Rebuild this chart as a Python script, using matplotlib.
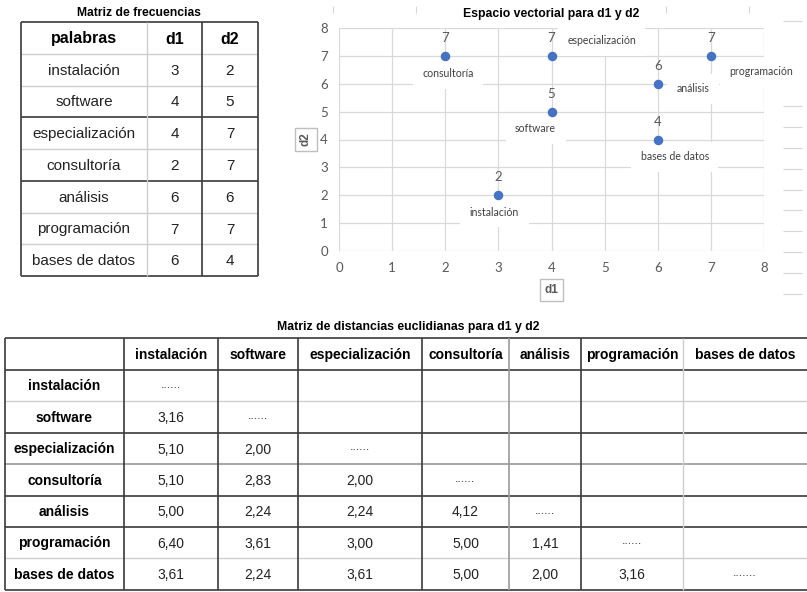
import matplotlib.pyplot as plt

plt.rcParams['font.family'] = ['Liberation Sans', 'DejaVu Sans']

# datos de la matriz de frecuencias
palabras = ["instalación", "software", "especialización", "consultoría",
            "análisis", "programación", "bases de datos"]
d1 = [3, 4, 4, 2, 6, 7, 6]
d2 = [2, 5, 7, 7, 6, 7, 4]

distancias = [
    [],
    ["3,16"],
    ["5,10", "2,00"],
    ["5,10", "2,83", "2,00"],
    ["5,00", "2,24", "2,24", "4,12"],
    ["6,40", "3,61", "3,00", "5,00", "1,41"],
    ["3,61", "2,24", "3,61", "5,00", "2,00", "3,16"],
]
diagonal = ["......", "......", "......", "......", "......", "......", "......."]

W, H = 807, 592
fig = plt.figure(figsize=(W / 100, H / 100), dpi=100)
ax0 = fig.add_axes([0, 0, 1, 1])
ax0.set_xlim(0, W)
ax0.set_ylim(H, 0)
ax0.axis('off')

DARK = '#3a3a3a'
LIGHT = '#cfcfcf'
MID = '#9a9a9a'


def hline(y, x0, x1, c, lw):
    ax0.plot([x0, x1], [y, y], color=c, lw=lw, solid_capstyle='butt')


def vline(x, y0, y1, c, lw):
    ax0.plot([x, x], [y0, y1], color=c, lw=lw, solid_capstyle='butt')


# ---- tabla 1: matriz de frecuencias ----
cx = [21, 147, 202, 258]
ry = [22, 54, 86, 117, 149, 181, 213, 244, 276]
h_style = ['d', 'l', 'l', 'd', 'l', 'd', 'l', 'l', 'd']
v_style = ['d', 'l', 'd', 'd']
for y, s in zip(ry, h_style):
    hline(y, cx[0], cx[-1], DARK if s == 'd' else LIGHT, 1.2 if s == 'd' else 1.0)
for x, s in zip(cx, v_style):
    vline(x, ry[0], ry[-1], DARK if s == 'd' else LIGHT, 1.2 if s == 'd' else 1.0)

ax0.text(139, 13, "Matriz de frecuencias", ha='center', va='center',
         fontsize=8.7, fontweight='bold')
for j, h in enumerate(["palabras", "d1", "d2"]):
    ax0.text((cx[j] + cx[j + 1]) / 2, (ry[0] + ry[1]) / 2 + 1, h, ha='center',
             va='center', fontsize=11.5, fontweight='bold')
for i, p in enumerate(palabras):
    yc = (ry[i + 1] + ry[i + 2]) / 2 + 1
    for j, v in enumerate([p, str(d1[i]), str(d2[i])]):
        ax0.text((cx[j] + cx[j + 1]) / 2, yc, v, ha='center', va='center',
                 fontsize=11, color='#222222')

# ---- tabla 2: distancias ----
bx = [5, 124, 218, 298, 422, 509, 581, 683, 807]
by = [338, 370, 401, 433, 464, 496, 527, 558, 590]
bh_style = ['d', 'd', 'l', 'd', 'm', 'd', 'd', 'l', 'd']
bv_style = ['d', 'd', 'd', 'd', 'd', 'm', 'd', 'l']
cols = {'d': DARK, 'l': LIGHT, 'm': MID}
for y, s in zip(by, bh_style):
    hline(y, bx[0], bx[-1], cols[s], 1.2 if s != 'l' else 1.0)
for x, s in zip(bx[:-1], bv_style):
    vline(x, by[0], by[-1], cols[s], 1.2 if s != 'l' else 1.0)

ax0.text(408, 327, "Matriz de distancias euclidianas para d1 y d2", ha='center',
         va='center', fontsize=8.8, fontweight='bold')
for j, p in enumerate(palabras):
    ax0.text((bx[j + 1] + bx[j + 2]) / 2, (by[0] + by[1]) / 2 + 1, p, ha='center',
             va='center', fontsize=10, fontweight='bold')
for i, p in enumerate(palabras):
    yc = (by[i + 1] + by[i + 2]) / 2 + 1
    ax0.text((bx[0] + bx[1]) / 2, yc, p, ha='center', va='center',
             fontsize=10, fontweight='bold')
    for j, v in enumerate(distancias[i]):
        ax0.text((bx[j + 1] + bx[j + 2]) / 2, yc, v, ha='center', va='center',
                 fontsize=10, color='#222222')
    ax0.text((bx[i + 1] + bx[i + 2]) / 2, yc - 2, diagonal[i], ha='center',
             va='center', fontsize=9, color='#333333')

# restos de cuadricula de la hoja de calculo
for y in [21, 106, 127, 148, 169, 190, 210, 231, 252, 273, 294]:
    hline(y, 783, 802, '#d6d6d6', 0.8)
for x in [333, 416, 666, 749]:
    vline(x, 6, 13, '#d6d6d6', 0.8)

# ---- grafico de dispersion ----
ax = fig.add_axes([339 / W, 1 - 251 / H, (764 - 339) / W, (251 - 28) / H])
ax.set_xlim(0, 8)
ax.set_ylim(0, 8)
ax.set_xticks(range(9))
ax.set_yticks(range(9))
ax.grid(True, color='#d9d9d9', lw=0.9)
ax.set_axisbelow(True)
for s in ax.spines.values():
    s.set_visible(False)
ax.tick_params(length=0, labelsize=9.5, labelcolor='#595959', pad=8)
for t in ax.get_xticklabels() + ax.get_yticklabels():
    t.set_family(['Lato', 'DejaVu Sans'])

ax.scatter(d1, d2, s=34, color='#4472c4', zorder=5, clip_on=False)

# desplazamiento de las etiquetas en pixeles
offsets = {
    "instalación": (-4, -17),
    "software": (-16, -17),
    "especialización": (50, 15),
    "consultoría": (3, -18),
    "análisis": (35, -5),
    "programación": (50, -16),
    "bases de datos": (17, -17),
}
for p, x, y in zip(palabras, d1, d2):
    ax.annotate(str(y), (x, y), xytext=(0, 18), textcoords='offset pixels',
                ha='center', va='center', fontsize=9.5, color='#595959',
                family=['Lato', 'DejaVu Sans'], zorder=6)
    ax.annotate(p, (x, y), xytext=offsets[p], textcoords='offset pixels',
                ha='center', va='center', fontsize=7.6, color='#404040',
                family=['Lato', 'DejaVu Sans'], zorder=4, annotation_clip=False,
                bbox=dict(boxstyle='square,pad=0.9', fc='white', ec='none'))

ax.set_title("Espacio vectorial para d1 y d2", fontsize=8.8, fontweight='bold', pad=8)
ax.set_xlabel("d1", fontsize=8.5, fontweight='bold', color='#595959', labelpad=7,
              bbox=dict(boxstyle='square,pad=0.4', fc='white', ec='#bfbfbf'))
ax.set_ylabel("d2", fontsize=8.5, fontweight='bold', color='#595959', labelpad=6,
              bbox=dict(boxstyle='square,pad=0.4', fc='white', ec='#bfbfbf'))

fig.savefig('out.png', dpi=100)
